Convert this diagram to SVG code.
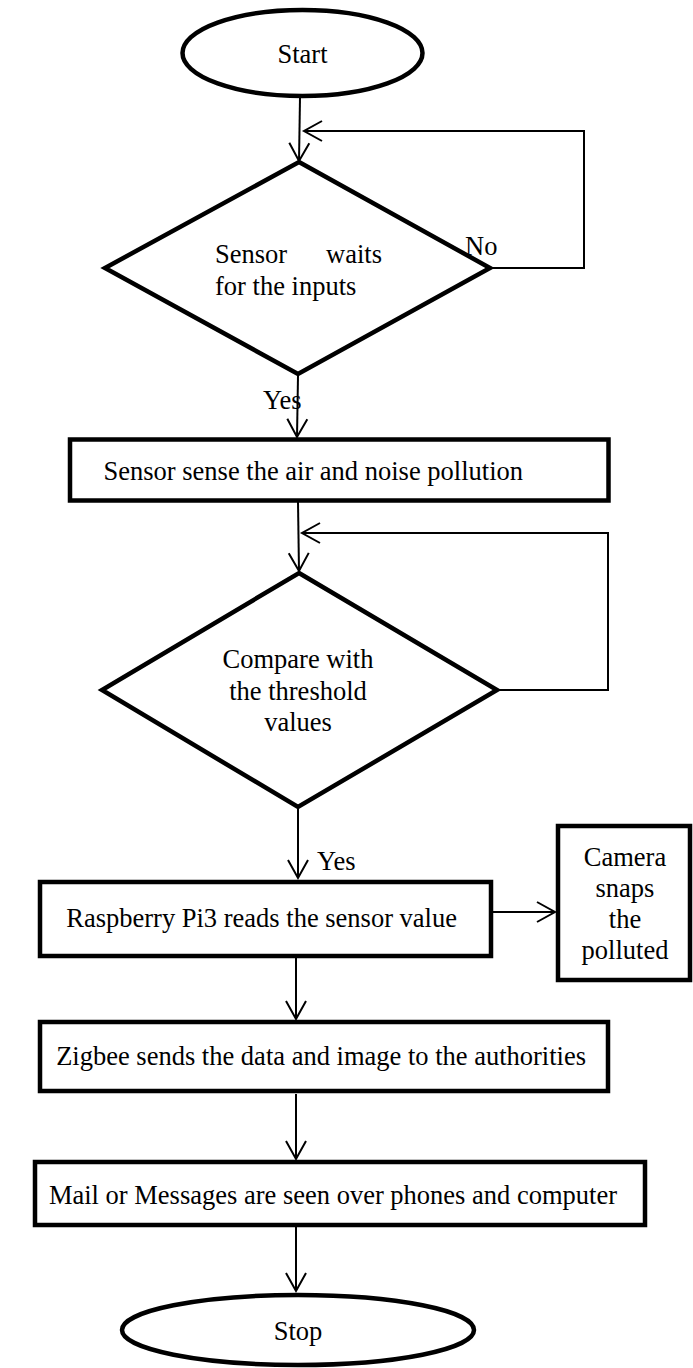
<svg xmlns="http://www.w3.org/2000/svg" width="693" height="1368" viewBox="0 0 693 1368">
<style>
.shape{fill:#fff;stroke:#000;stroke-width:4.5}
.conn{fill:none;stroke:#000;stroke-width:2}
text{font-family:"Liberation Serif","Times New Roman",serif;font-size:26.5px;fill:#000}
.m{text-anchor:middle}
.e{text-anchor:end}
</style>
<defs>
<marker id="arr" markerUnits="userSpaceOnUse" markerWidth="24" markerHeight="24" viewBox="-20 -12 24 24" refX="0" refY="0" orient="auto">
<path d="M-18,-10 L0,0 L-18,10" fill="none" stroke="#000" stroke-width="2"/>
</marker>
</defs>
<rect width="693" height="1368" fill="#fff"/>
<g id="connectors">
<line class="conn" x1="300" y1="98" x2="299" y2="161" marker-end="url(#arr)"/>
<polyline class="conn" points="490,268 584,268 584,131 304,131" marker-end="url(#arr)"/>
<line class="conn" x1="298" y1="376" x2="297" y2="437" marker-end="url(#arr)"/>
<line class="conn" x1="298" y1="502" x2="299" y2="571" marker-end="url(#arr)"/>
<polyline class="conn" points="497,690 608,690 608,533 302,533" marker-end="url(#arr)"/>
<line class="conn" x1="298" y1="809" x2="298" y2="878" marker-end="url(#arr)"/>
<line class="conn" x1="493" y1="912" x2="555" y2="912" marker-end="url(#arr)"/>
<line class="conn" x1="296" y1="958" x2="296" y2="1019" marker-end="url(#arr)"/>
<line class="conn" x1="296" y1="1094" x2="296" y2="1159" marker-end="url(#arr)"/>
<line class="conn" x1="296" y1="1227" x2="296" y2="1291" marker-end="url(#arr)"/>
<text x="263" y="409">Yes</text>
<text x="317" y="870">Yes</text>
<text x="465" y="255">No</text>
</g>
<g id="start">
<ellipse class="shape" cx="302.5" cy="53" rx="120" ry="43"/>
<text class="m" x="302.5" y="63">Start</text>
</g>
<g id="wait">
<polygon class="shape" points="299,162 490,268 298,374 105,268"/>
<text x="215" y="263">Sensor</text>
<text class="e" x="382" y="263">waits</text>
<text x="215" y="295">for the inputs</text>
</g>
<g id="sense">
<rect class="shape" x="70" y="439.5" width="538.5" height="61"/>
<text class="e" x="523" y="480">Sensor sense the air and noise pollution</text>
</g>
<g id="compare">
<polygon class="shape" points="299,573 497,690 298,807 102,690"/>
<text class="m" x="298" y="668">Compare with</text>
<text class="m" x="298" y="700">the threshold</text>
<text class="m" x="298" y="731">values</text>
</g>
<g id="raspberry">
<rect class="shape" x="40" y="882" width="451" height="74"/>
<text class="e" x="457" y="927">Raspberry Pi3 reads the sensor value</text>
</g>
<g id="camera">
<rect class="shape" x="558" y="826" width="132" height="154"/>
<text class="m" x="625" y="866">Camera</text>
<text class="m" x="625" y="897">snaps</text>
<text class="m" x="625" y="928">the</text>
<text class="m" x="625" y="959">polluted</text>
</g>
<g id="zigbee">
<rect class="shape" x="40" y="1022" width="568" height="69"/>
<text class="e" x="586" y="1065">Zigbee sends the data and image to the authorities</text>
</g>
<g id="mail">
<rect class="shape" x="35" y="1162" width="610" height="63"/>
<text class="e" x="617" y="1204">Mail or Messages are seen over phones and computer</text>
</g>
<g id="stop">
<ellipse class="shape" cx="298" cy="1330" rx="176" ry="35"/>
<text class="m" x="298" y="1340">Stop</text>
</g>
</svg>
